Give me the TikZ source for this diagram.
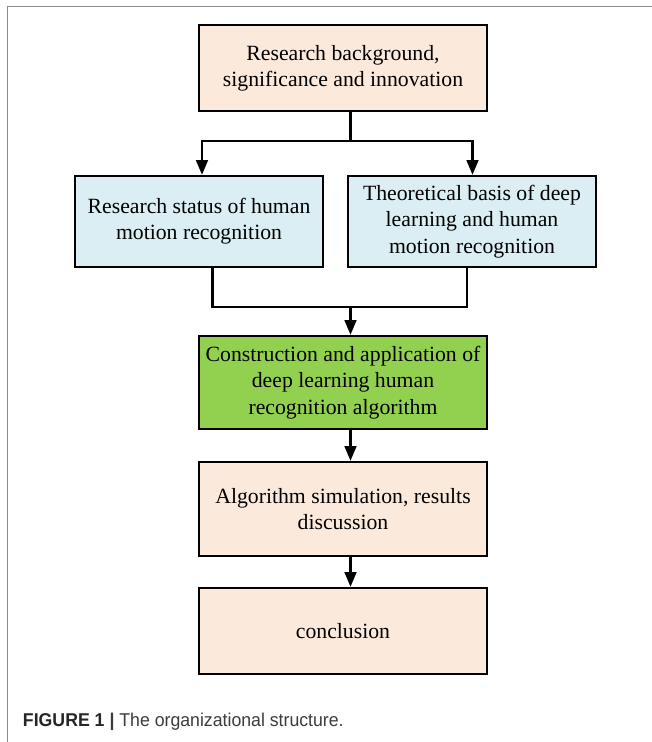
\documentclass[tikz,border=0pt]{standalone}
\usepackage{fontspec}
\setmainfont{Liberation Serif}
\newfontfamily\capfont{Liberation Sans}
\usetikzlibrary{arrows.meta,calc}
\definecolor{peach}{HTML}{FBE9DC}
\definecolor{lblue}{HTML}{DBEEF3}
\definecolor{lgreen}{HTML}{92D050}
\definecolor{framegray}{HTML}{8C8C8C}
\definecolor{capdark}{HTML}{262626}
\definecolor{capgray}{HTML}{3C3C3C}
\begin{document}
\begin{tikzpicture}[x=0.75pt,y=-0.75pt,
  box/.style={draw=black,line width=1.8pt,inner sep=0pt,align=center,
    font=\fontsize{16.3}{19.7}\selectfont},
  wide/.style={box,minimum width=216pt},
  half/.style={box,minimum width=186pt,minimum height=68.25pt,fill=lblue},
  conn/.style={line width=1.7pt},
  arr/.style={conn,-{Triangle[length=11pt,width=8.8pt]}}]
\useasboundingbox (0,0) rectangle (652,742);
\fill[white] (0,0) rectangle (652,742);
\draw[framegray,line width=1.2pt] (7.5,742) -- (7.5,6.7) -- (652,6.7);

\node[wide,minimum height=64.5pt,fill=peach] (top) at (343,68)
  {Research background,\\significance and innovation};
\node[half] (left) at (199,221.5)
  {Research status of human\\motion recognition};
\node[half] (right) at (472,221.5)
  {Theoretical basis of deep\\learning and human\\motion recognition};
\node[wide,minimum height=69.75pt,fill=lgreen] (green) at (343,382.5)
  {Construction and application of\\deep learning human\\recognition algorithm};
\node[wide,minimum height=70.5pt,fill=peach] (algo) at (343,509)
  {Algorithm simulation, results\\discussion};
\node[wide,minimum height=64.5pt,fill=peach] (concl) at (343,631)
  {conclusion};

\coordinate (fork) at (350.5,140.7);
\coordinate (join) at (350.5,306.7);
\coordinate (lx) at (202,0);
\coordinate (rx) at (472.5,0);
\coordinate (lj) at (212.5,0);
\coordinate (rj) at (467,0);

\draw[conn] (top.south -| fork) -- (fork);
\draw[arr] (fork) -| (left.north -| lx);
\draw[arr] (fork) -| (right.north -| rx);
\draw[conn] (left.south -| lj) |- (join) -| (right.south -| rj);
\draw[arr] (join) -- (green.north -| join);
\draw[arr] (green.south -| join) -- (algo.north -| join);
\draw[arr] (algo.south -| join) -- (concl.north -| join);

\node[anchor=base west,inner sep=0pt,text=capgray,
  font=\capfont\fontsize{13.9}{16}\selectfont] (caption) at (22.7,726.7)
  {\scalebox{0.955}[1]{\textcolor{capdark}{\textbf{FIGURE 1}} \textbf{|} The organizational structure.}};
\end{tikzpicture}
\end{document}
